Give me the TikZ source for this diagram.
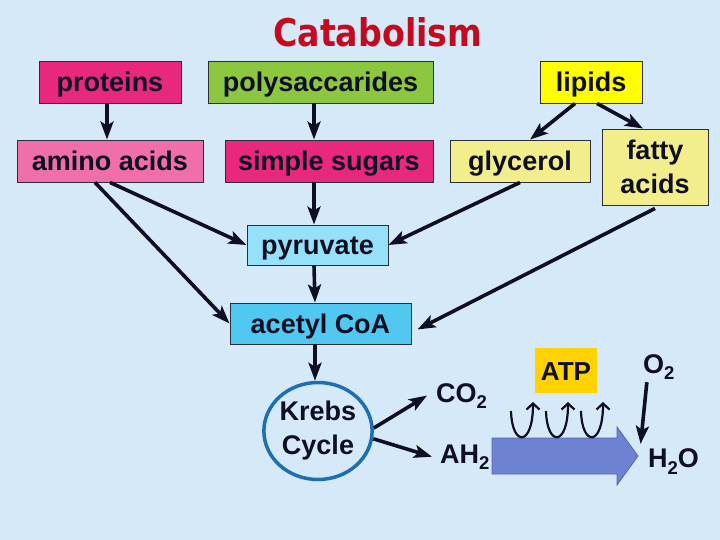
\documentclass[tikz,border=0pt]{standalone}
\usepackage{fontspec}
\setmainfont{Liberation Sans}
\newfontfamily\titlefont{DejaVu Sans}
\usetikzlibrary{arrows.meta,shapes.geometric,calc}
\definecolor{bg}{RGB}{213,233,248}
\definecolor{ink}{RGB}{15,15,35}
\definecolor{boxline}{RGB}{45,45,55}
\definecolor{titlered}{RGB}{195,10,30}
\definecolor{cProt}{RGB}{232,40,124}
\definecolor{cPoly}{RGB}{141,198,63}
\definecolor{cLip}{RGB}{255,255,0}
\definecolor{cAmino}{RGB}{240,110,170}
\definecolor{cGly}{RGB}{243,238,140}
\definecolor{cPyr}{RGB}{150,225,250}
\definecolor{cAce}{RGB}{80,200,240}
\definecolor{cKrebs}{RGB}{30,110,180}
\definecolor{cATP}{RGB}{255,210,0}
\definecolor{cBig}{RGB}{110,130,210}
\definecolor{cBigLine}{RGB}{85,100,175}
\newcommand\labelfont{\bfseries\fontsize{27}{34}\selectfont}
\newcommand\lowtwo{\raisebox{-6pt}{\fontsize{18.5}{18.5}\selectfont 2}}
\newcommand\hightwo{\raisebox{-7pt}{\fontsize{18.5}{18.5}\selectfont 2}}
\tikzset{
  box/.style={draw=boxline, line width=0.9pt, inner sep=0pt, font=\labelfont, text=ink},
  oneline/.style={text height=23pt, text depth=4pt},
  arr/.style={draw=ink, line width=3.6pt, -{Stealth[length=18pt,width=13pt,inset=4pt]}},
  curl/.style={draw=ink, line width=2.2pt, -{Straight Barb[length=6pt,width=13pt]}},
  lbl/.style={font=\labelfont, text=ink, inner sep=0pt},
}
\begin{document}
\begin{tikzpicture}[x=1pt,y=-1pt]
\fill[bg] (0,0) rectangle (720,540);
\useasboundingbox (0,0) rectangle (720,540);

% title
\node[anchor=base west, inner sep=0pt, text=titlered] (title) at (273,47)
  {\resizebox{209pt}{29pt}{\titlefont\bfseries Catabolism}};

% boxes
\node[box, oneline, fill=cProt, minimum width=142pt, minimum height=42pt] (proteins) at (110,82) {proteins};
\node[box, oneline, fill=cPoly, minimum width=225pt, minimum height=42pt] (poly) at (320.5,82) {polysaccarides};
\node[box, oneline, fill=cLip, minimum width=102pt, minimum height=42pt] (lipids) at (591,82) {lipids};
\node[box, oneline, fill=cAmino, minimum width=186pt, minimum height=42pt] (amino) at (110,161) {amino acids};
\node[box, oneline, fill=cProt, minimum width=208pt, minimum height=42pt] (sugars) at (329,161) {simple sugars};
\node[box, oneline, fill=cGly, minimum width=140pt, minimum height=42pt] (glycerol) at (520,161) {glycerol};
\node[box, fill=cGly, minimum width=106pt, minimum height=76pt, align=center] (fatty) at (655,167) {fatty\\acids};
\node[box, oneline, fill=cPyr, minimum width=141pt, minimum height=40pt] (pyruvate) at (317.5,245) {pyruvate};
\node[box, oneline, fill=cAce, minimum width=181pt, minimum height=41pt] (acetyl) at (320.5,323.5) {acetyl CoA};
\node[ellipse, draw=cKrebs, line width=3.5pt, fill=bg, minimum width=108pt, minimum height=97pt,
      inner sep=0pt, align=center, font=\labelfont, text=ink] (krebs) at (318,431) {Krebs\\Cycle};

% products
\node[lbl, anchor=base west] (co2) at (436,402) {CO\lowtwo};
\node[lbl, anchor=base west] (ah2) at (440,463) {AH\lowtwo};
\node[lbl, anchor=base west] (o2) at (643,373) {O\lowtwo};
\node[lbl, anchor=base west] (h2o) at (648,467) {H\hightwo O};
\node[fill=cATP, minimum width=62pt, minimum height=45pt, inner sep=0pt, text height=19pt, text depth=0pt,
      font=\bfseries\fontsize{26}{26}\selectfont, text=ink] (atp) at (566,370.5) {ATP};

% big arrow
\filldraw[fill=cBig, draw=cBigLine, line width=0.8pt]
  (492,438) -- (617,438) -- (617,427) -- (638,456) -- (617,485) -- (617,474) -- (492,474) -- cycle;

% curls
\foreach \dx in {0,35,70}
  \draw[curl] ({511+\dx},411) .. controls ({512+\dx},447) and ({533+\dx},447) .. ({533+\dx},402);

% connectors
\draw[arr] ([xshift=-3pt]proteins.south) -- ([xshift=-3pt]amino.north);
\draw[arr] ([xshift=-6.5pt]poly.south) -- ([xshift=-15pt]sugars.north);
\draw[arr] ([xshift=-16pt]lipids.south) -- ([xshift=10pt]glycerol.north);
\draw[arr] ([xshift=6pt]lipids.south) -- ([xshift=-12pt]fatty.north);
\draw[arr] (amino.south) -- (pyruvate.west);
\draw[arr] ([xshift=-15pt]amino.south) -- (acetyl.west);
\draw[arr] ([xshift=-15pt]sugars.south) -- ([xshift=-3.5pt]pyruvate.north);
\draw[arr] (glycerol.south) -- (pyruvate.east);
\draw[arr] ([yshift=-3pt]fatty.south) -- ([xshift=6pt,yshift=-6pt]acetyl.east);
\draw[arr] ([xshift=-3.5pt]pyruvate.south) -- ([xshift=-5.5pt]acetyl.north);
\draw[arr] ([xshift=-5.5pt]acetyl.south) -- ([xshift=-3pt]krebs.north);
\draw[arr] (krebs.3) -- ([xshift=-9pt]co2.west);
\draw[arr] (krebs.-8) -- ([xshift=-8pt]ah2.west);
\draw[arr] ([xshift=-12pt,yshift=-3pt]o2.south) -- ([xshift=-33pt,yshift=4pt]h2o.north);
\end{tikzpicture}
\end{document}
